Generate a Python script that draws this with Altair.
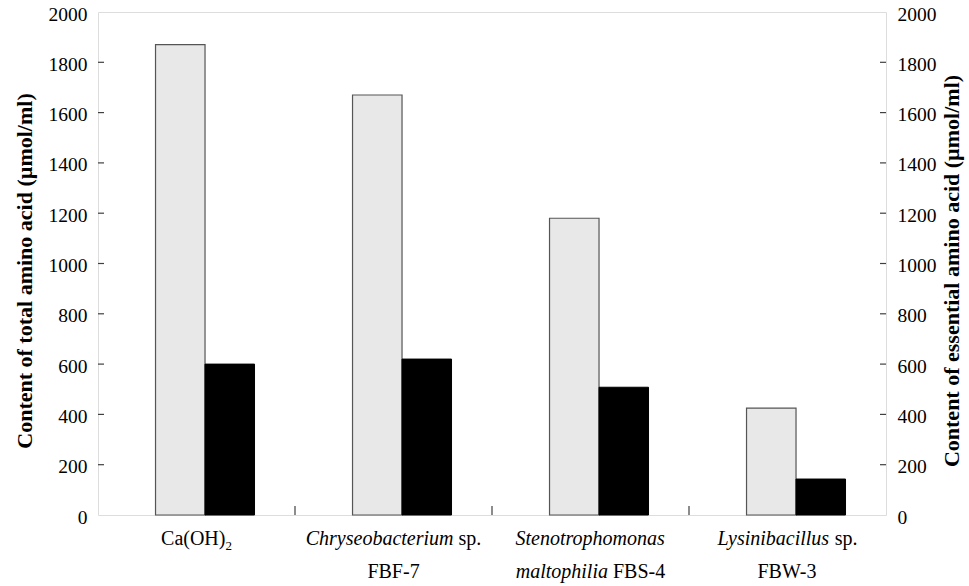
import altair as alt
import pandas as pd

# Samples on the x axis (internal keys) and their two-line labels
categories = ["CaOH2", "FBF-7", "FBS-4", "FBW-3"]
label_lines = {
    "CaOH2": [[("Ca(OH)", "normal"), ("2", "sub")]],
    "FBF-7": [[("Chryseobacterium", "italic"), (" sp.", "normal")],
              [("FBF-7", "normal")]],
    "FBS-4": [[("Stenotrophomonas", "italic")],
              [("maltophilia", "italic"), (" FBS-4", "normal")]],
    "FBW-3": [[("Lysinibacillus", "italic"), (" sp.", "normal")],
              [("FBW-3", "normal")]],
}

# Amino acid contents (umol/ml)
total_amino_acid = [1870, 1670, 1180, 425]
essential_amino_acid = [600, 620, 508, 143]

axis_ticks = [0, 200, 400, 600, 800, 1000, 1200, 1400, 1600, 1800, 2000]
inner_ticks = axis_ticks[1:-1]

W, H = 788, 503
FONT = "Liberation Serif"
LABEL_SIZE = 20
TICK_SIZE = 19.5
TITLE_SIZE = 22
FRAME = "#404040"

y_dom = alt.Scale(domain=[0, 2000], nice=False, zero=True)
x_scale = alt.Scale(domain=categories, paddingInner=0, paddingOuter=0)
off_scale = alt.Scale(domain=["total", "essential"], paddingInner=0,
                      paddingOuter=0.99, align=0.587)

df_total = pd.DataFrame({"cat": categories, "v": total_amino_acid, "s": "total"})
df_ess = pd.DataFrame({"cat": categories, "v": essential_amino_acid, "s": "essential"})


def y_axis(orient, title):
    kw = dict(
        orient=orient, values=axis_ticks, format="d", ticks=False, tickSize=0,
        domain=False, grid=False, labelFont=FONT, labelFontSize=TICK_SIZE,
        labelColor="black", labelPadding=11, labelOffset=2, title=title,
        titleFont=FONT, titleFontSize=TITLE_SIZE, titleFontWeight="bold",
        titleColor="black", titlePadding=12, titleY=H / 2 + 7,
    )
    if orient == "right":
        kw["titleAngle"] = 270
        kw["titleBaseline"] = "top"
        kw["titlePadding"] = 5
    return alt.Axis(**kw)


total_bars = alt.Chart(df_total).mark_bar(
    fill="#e8e8e8", stroke="#555555", strokeWidth=1.2
).encode(
    x=alt.X("cat:N", sort=categories, scale=x_scale, axis=None),
    xOffset=alt.XOffset("s:N", scale=off_scale),
    y=alt.Y("v:Q", scale=y_dom,
            axis=y_axis("left", "Content of total amino acid (\u00b5mol/ml)")),
)

ess_bars = alt.Chart(df_ess).mark_bar(fill="black", stroke="black", strokeWidth=1).encode(
    x=alt.X("cat:N", sort=categories, scale=x_scale, axis=None),
    xOffset=alt.XOffset("s:N", scale=off_scale),
    y=alt.Y("v:Q", scale=y_dom,
            axis=y_axis("right", "Content of essential amino acid (\u00b5mol/ml)")),
)

# Inward tick marks on both value axes
tick_df = pd.DataFrame({"v": inner_ticks})
left_ticks = alt.Chart(tick_df).mark_rule(color=FRAME, strokeWidth=1.2).encode(
    y=alt.Y("v:Q", scale=y_dom, axis=None),
    x=alt.value(0), x2=alt.value(6),
)
right_ticks = alt.Chart(tick_df).mark_rule(color=FRAME, strokeWidth=1.2).encode(
    y=alt.Y("v:Q", scale=y_dom, axis=None),
    x=alt.value(W - 6), x2=alt.value(W),
)

# Inward tick marks between the sample groups
sep_df = pd.DataFrame({"cat": categories[1:]})
sep_ticks = alt.Chart(sep_df).mark_rule(color=FRAME, strokeWidth=1.2).encode(
    x=alt.X("cat:N", sort=categories, scale=x_scale, axis=None, bandPosition=0),
    y=alt.datum(0, scale=y_dom, axis=None), y2=alt.datum(36),
)

# Glyph advance widths (Times metrics, per 1000 em) for laying out mixed-style labels
REG = {" ": 250, "(": 333, ")": 333, "-": 333, ".": 250, "A": 722, "B": 667,
       "C": 667, "F": 556, "H": 722, "O": 722, "S": 556, "W": 944, "a": 444,
       "p": 500, "s": 389}
ITA = {"a": 500, "b": 500, "c": 444, "e": 444, "h": 500, "i": 278, "l": 278,
       "m": 722, "n": 500, "o": 500, "p": 500, "r": 389, "s": 389, "t": 278,
       "u": 500, "y": 444, "C": 667, "L": 556, "S": 500}


def seg_width(text, style, size):
    table = ITA if style == "italic" else REG
    return sum(table.get(ch, 500) for ch in text) * size / 1000.0


label_layers = []
line_y = [H + 30, H + 63]
for cat in categories:
    for li, line in enumerate(label_lines[cat]):
        sizes = [LABEL_SIZE * 0.65 if st == "sub" else LABEL_SIZE for _, st in line]
        widths = [seg_width(t, st, sz) for (t, st), sz in zip(line, sizes)]
        pos = -sum(widths) / 2.0
        for (t, st), sz, w in zip(line, sizes, widths):
            lead = seg_width(t[: len(t) - len(t.lstrip())], "normal", sz)
            seg = alt.Chart(pd.DataFrame({"cat": [cat], "t": [t.strip()]})).mark_text(
                align="left", baseline="alphabetic", font=FONT, fontSize=sz,
                fontStyle="italic" if st == "italic" else "normal",
                color="black", dx=pos + lead, dy=5 if st == "sub" else 0,
            ).encode(
                x=alt.X("cat:N", sort=categories, scale=x_scale, axis=None),
                y=alt.value(line_y[li]),
                text="t:N",
            )
            label_layers.append(seg)
            pos += w

chart = alt.layer(
    total_bars, ess_bars, left_ticks, right_ticks, sep_ticks, *label_layers
).resolve_scale(y="independent").properties(
    width=W, height=H,
    autosize=alt.AutoSizeParams(type="none"),
    padding={"left": 98, "top": 12, "right": 83, "bottom": 71},
).configure_view(
    stroke=FRAME, strokeWidth=1.5
).configure(background="white")

chart.save("out.html", embed_options={"renderer": "svg", "actions": False})
